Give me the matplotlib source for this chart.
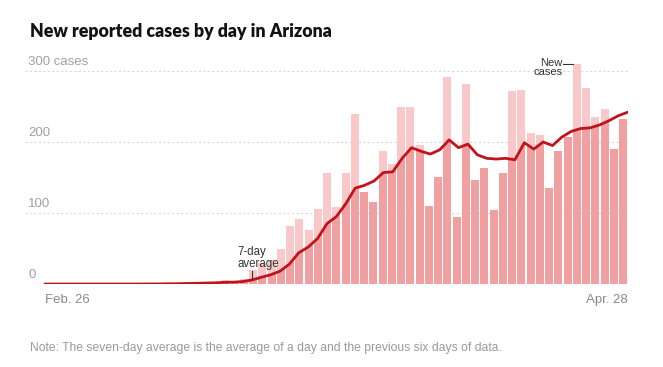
import matplotlib.pyplot as plt
from matplotlib.patches import Polygon
import numpy as np

# New reported cases by day, Feb. 26 to Apr. 28
dias = ["Feb. 26", "Apr. 28"]
casos = [
    0, 0, 0, 0, 0, 0, 0, 0, 0, 0, 0, 1, 0, 1, 1, 2, 1, 3, 3,
    5, 3, 7, 20, 30, 34, 49, 81, 91, 76, 106, 157, 108, 156, 239,
    129, 115, 187, 169, 250, 250, 196, 110, 151, 292, 95, 281, 147,
    163, 104, 156, 272, 273, 212, 210, 135, 187, 207, 310, 276, 235,
    246, 190, 232,
]
# 7-day average as drawn
promedio = [
    0, 0, 0, 0, 0, 0, 0, 0, 0, 0, 0, 0.1, 0.1, 0.3, 0.4, 0.7, 0.9, 1.3, 1.6,
    2.3, 2.6, 3.4, 5.6, 9.4, 13, 18, 28, 44, 52, 64, 85, 95, 113, 135,
    139, 145, 157, 158, 177, 192, 187, 183, 189, 203, 192, 197, 182,
    177, 176, 177, 175, 199, 190, 200, 195, 207, 215, 219, 220, 224,
    230, 237, 242,
]
ticks_y = [0, 100, 200, 300]
etiquetas_y = ["0", "100", "200", "300 cases"]

plt.rcParams["font.family"] = ["Liberation Sans", "DejaVu Sans"]

n = len(casos)
x = np.arange(n)
# the average line runs from the first bar's left edge to the last bar's right edge
x_linea = np.linspace(-0.5, n - 0.5, n)

fig = plt.figure(figsize=(6.63, 3.67), dpi=100)
ax = fig.add_axes([25 / 663, (367 - 284) / 367, 603 / 663, 224 / 367])
ax.set_xlim(-2.66, 62.53)
ax.set_ylim(0, 224 / 0.71)

# gridlines + labels
for v, etq in zip(ticks_y, etiquetas_y):
    ax.axhline(v, color="#d9d9d9", lw=0.8, ls=(0, (2, 2)), zorder=0)
    ax.annotate(etq, xy=(0.005, v), xycoords=("axes fraction", "data"),
                xytext=(0, 2), textcoords="offset points",
                ha="left", va="bottom", fontsize=9.5, color="#a0a0a0")

# bars: light full height, dark part clipped under the average line
ancho = 0.86
ax.bar(x, casos, ancho, color="#f9c8c8", zorder=1)
oscuras = ax.bar(x, casos, ancho, color="#f0a0a0", zorder=2)
poly = Polygon(np.column_stack([np.r_[x_linea[0], x_linea, x_linea[-1]],
                                np.r_[0, promedio, 0]]),
               closed=True, transform=ax.transData)
for b in oscuras:
    b.set_clip_path(poly)

ax.plot(x_linea, promedio, color="#c0131b", lw=2, zorder=3,
        solid_capstyle="round", solid_joinstyle="round")

# annotations
k = 22
ax.plot([x_linea[k], x_linea[k]], [promedio[k] + 1, 18], color="#333333", lw=0.8, zorder=4)
ax.text(20.36, 19.5, "7-day\naverage", ha="left", va="bottom", fontsize=8.3,
        color="#333333", linespacing=1.0, zorder=5)

m = 57
ax.plot([m - 1.55, m - 0.45], [casos[m], casos[m]], color="#333333", lw=0.8, zorder=4)
ax.text(m - 1.55, 291, "New\ncases", ha="right", va="bottom", fontsize=8,
        color="#333333", linespacing=0.95, zorder=5)

# x labels
ax.text(-0.5, -14, dias[0], ha="left", va="top", fontsize=9.5, color="#8a8a8a")
ax.text(n - 0.5, -14, dias[1], ha="right", va="top", fontsize=9.5, color="#8a8a8a")

ax.axis("off")

fig.text(30 / 663, 1 - 31 / 367, "New reported cases by day in Arizona",
         ha="left", va="center", fontsize=12.8, fontweight="heavy", color="#121212",
         family=["Lato", "Liberation Sans", "DejaVu Sans"])
fig.text(30 / 663, 1 - 348 / 367,
         "Note: The seven-day average is the average of a day and the previous six days of data.",
         ha="left", va="center", fontsize=8.7, color="#9a9a9a")

fig.savefig("out.png", dpi=100)
